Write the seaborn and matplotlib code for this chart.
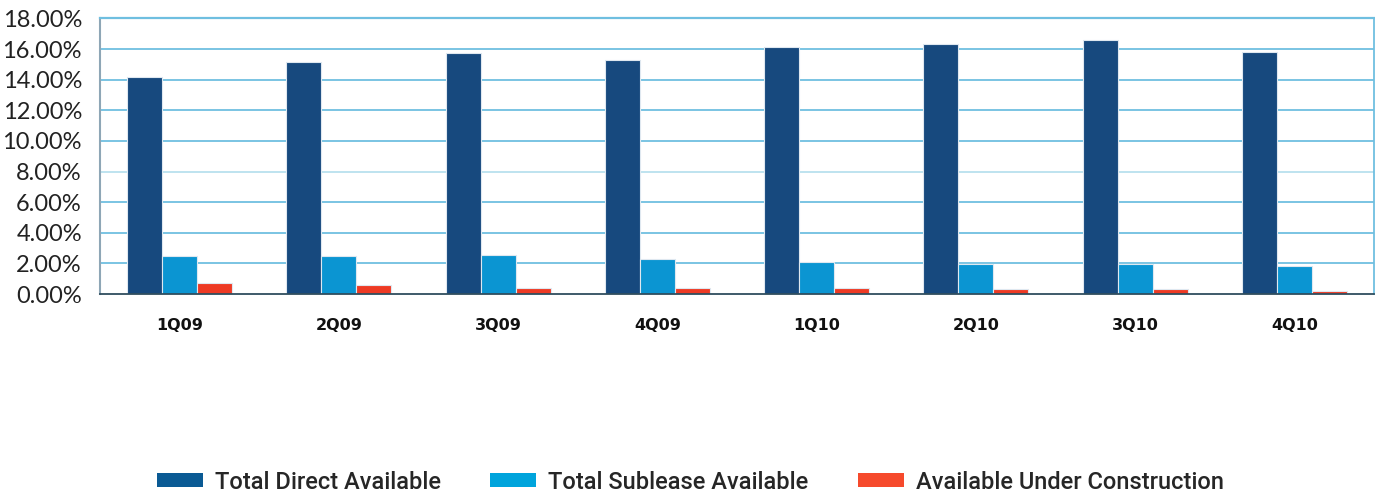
import matplotlib
matplotlib.use("Agg")
import matplotlib.pyplot as plt
from matplotlib.patches import Patch
from matplotlib.ticker import FuncFormatter, FixedLocator
import seaborn as sns
import pandas as pd

quarters = ["1Q09", "2Q09", "3Q09", "4Q09", "1Q10", "2Q10", "3Q10", "4Q10"]
series_names = ["Total Direct Available", "Total Sublease Available", "Available Under Construction"]
direct = [14.18, 15.16, 15.73, 15.29, 16.14, 16.36, 16.58, 15.80]
sublease = [2.48, 2.48, 2.55, 2.29, 2.07, 1.94, 1.98, 1.83]
construction = [0.72, 0.59, 0.39, 0.39, 0.39, 0.33, 0.33, 0.20]

bar_colors = ["#17497e", "#0b95d2", "#ee3a24"]
legend_colors = ["#0a5a94", "#00a4dc", "#f64a2c"]

df = pd.DataFrame({
    "Quarter": quarters * 3,
    "Series": [series_names[0]] * 8 + [series_names[1]] * 8 + [series_names[2]] * 8,
    "Value": direct + sublease + construction,
})

sns.set_theme(style="white")
plt.rcParams["font.family"] = ["DejaVu Sans"]

fig = plt.figure(figsize=(13.75, 4.93), dpi=100)
ax = fig.add_axes([0.0727, 0.4036, 0.9266, 0.5589])

sns.barplot(data=df, x="Quarter", y="Value", hue="Series", order=quarters,
            hue_order=series_names, palette=bar_colors, width=0.66, saturation=1,
            edgecolor="#dfe8f0", linewidth=0.8, errorbar=None, ax=ax, legend=False,
            zorder=3)

ax.set_xlim(-0.5, len(quarters) - 0.5)
ax.set_ylim(0, 18)
ax.yaxis.set_major_locator(FixedLocator([i * 2 for i in range(10)]))
ax.yaxis.set_major_formatter(FuncFormatter(lambda v, p: f"{v:.2f}%"))
for y in range(2, 19, 2):
    col = "#b9e0ee" if y == 8 else "#6fbfe0"
    ax.axhline(y, color=col, linewidth=1.3, zorder=1)

ax.set_xlabel("")
ax.set_ylabel("")
ax.tick_params(axis="y", labelsize=17, colors="#222222", length=0, pad=13)
for lab in ax.get_yticklabels():
    lab.set_family(["Lato", "DejaVu Sans"])
ax.tick_params(axis="x", which="major", length=0, pad=17, labelsize=11.5)
for lab in ax.get_xticklabels():
    lab.set_fontweight("bold")
    lab.set_color("#111111")

# boundary tick marks between quarters
ax.set_xticks([i - 0.5 for i in range(len(quarters) + 1)], minor=True)
ax.tick_params(axis="x", which="minor", length=6, width=1, color="#555555", direction="out")

for side in ["left", "right", "top", "bottom"]:
    ax.spines[side].set_visible(True)
ax.spines["left"].set_color("#8ea6b6")
ax.spines["left"].set_linewidth(1.5)
ax.spines["right"].set_color("#6fbfe0")
ax.spines["right"].set_linewidth(1.3)
ax.spines["top"].set_color("#6fbfe0")
ax.spines["top"].set_linewidth(1.6)
ax.spines["bottom"].set_color("#2f4d5e")
ax.spines["bottom"].set_linewidth(1.3)
ax.spines["bottom"].set_zorder(5)

handles = [Patch(facecolor=c, edgecolor="none") for c in legend_colors]
fig.legend(handles, series_names, loc="center", bbox_to_anchor=(0.502, 0.022),
           ncol=3, frameon=False, handlelength=1.95, handleheight=0.55,
           handletextpad=0.5, columnspacing=2.1,
           prop={"family": ["Roboto", "DejaVu Sans"], "size": 17, "weight": "medium"})

fig.savefig("out.png", dpi=100)
